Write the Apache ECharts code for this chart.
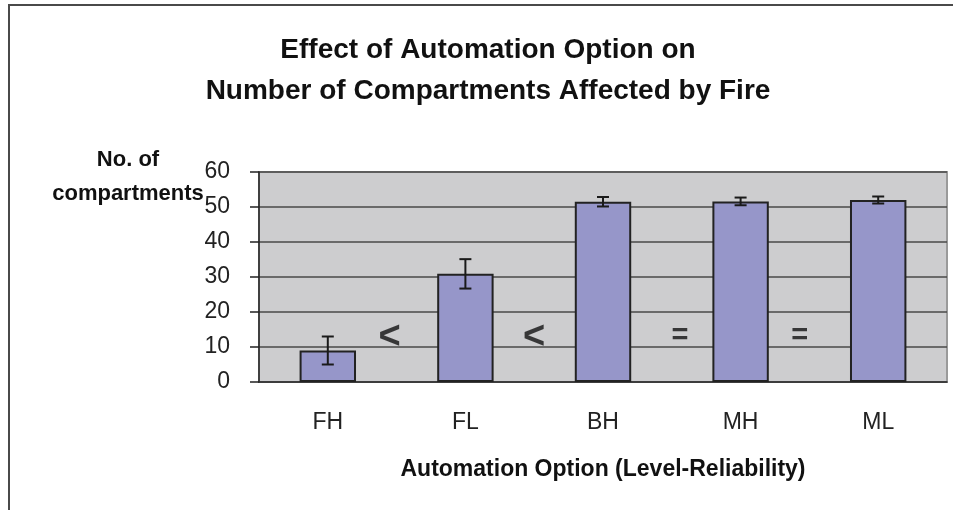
<!DOCTYPE html>
<html lang="en">
<head>
    <meta charset="UTF-8">
    <script src="https://cdn.jsdelivr.net/npm/echarts@6/dist/echarts.min.js"></script>
    <title>Effect of Automation Option</title>
    <style>
        html, body { margin: 0; padding: 0; background: #fff; }
        #main { width: 953px; height: 510px; }
    </style>
</head>
<body>
<div id="main"></div>
<script>
    // data
    var categories = ['FH', 'FL', 'BH', 'MH', 'ML'];
    var means = [9.0, 30.9, 51.5, 51.6, 52.0];
    var errors = [4.0, 4.2, 1.35, 1.1, 1.0];

    // comparison marks placed between the bars (x in category units, y in value units)
    var compSymbols = ['<', '<', '=', '='];
    var compX = [0.95, 2.0, 3.06, 3.93];
    var compY = [12.6, 12.6, 13.1, 13.1];

    var font = "'Liberation Sans', Arial, sans-serif";

    var errData = [];
    for (var i = 0; i < means.length; i++) {
        errData.push([i, means[i], errors[i]]);
    }
    var compData = [];
    for (var j = 0; j < compSymbols.length; j++) {
        compData.push({
            value: [compX[j], compY[j]],
            label: {
                formatter: compSymbols[j],
                fontSize: compSymbols[j] === '<' ? 38 : 29
            }
        });
    }

    var myChart = echarts.init(document.getElementById('main'));
    var option = {
        backgroundColor: '#fff',
        animation: false,
        textStyle: { fontFamily: font },
        graphic: [{
            type: 'rect',
            shape: { x: 9, y: 5, width: 1000, height: 600 },
            style: { fill: 'none', stroke: '#4a4a4a', lineWidth: 2 },
            silent: true
        }],
        title: [{
            text: 'Effect of Automation Option on\nNumber of Compartments Affected by Fire',
            left: 483,
            top: 25,
            textAlign: 'center',
            textStyle: { fontFamily: font, fontSize: 28, fontWeight: 'bold', color: '#111', lineHeight: 41 }
        }, {
            text: 'No. of\ncompartments',
            left: 123,
            top: 138,
            textAlign: 'center',
            textStyle: { fontFamily: font, fontSize: 22, fontWeight: 'bold', color: '#111', lineHeight: 34 }
        }],
        grid: {
            left: 259,
            top: 172,
            right: 6,
            bottom: 128,
            show: true,
            backgroundColor: '#cdcdcf',
            borderColor: '#9a9a9a',
            borderWidth: 2
        },
        xAxis: [{
            type: 'category',
            data: categories,
            name: 'Automation Option (Level-Reliability)',
            nameLocation: 'middle',
            nameGap: 76,
            nameTextStyle: { fontFamily: font, fontSize: 23, fontWeight: 'bold', color: '#111', lineHeight: 23 },
            axisLine: { lineStyle: { color: '#333', width: 1.5 } },
            axisTick: { length: 9, lineStyle: { color: '#333', width: 1.5 } },
            axisLabel: { fontFamily: font, fontSize: 23, color: '#222', margin: 29, lineHeight: 23 }
        }, {
            type: 'value',
            min: 0,
            max: 5,
            show: false
        }],
        yAxis: {
            type: 'value',
            min: 0,
            max: 60,
            interval: 10,
            axisLine: { show: true, lineStyle: { color: '#222', width: 1.5 } },
            axisTick: { show: true, length: 9, lineStyle: { color: '#222', width: 1.5 } },
            axisLabel: { fontFamily: font, fontSize: 23, color: '#222', margin: 29 },
            splitLine: { lineStyle: { color: '#484848', width: 1.5 } }
        },
        series: [{
            type: 'bar',
            data: means,
            barWidth: '41%',
            itemStyle: { color: '#9696c9', borderColor: '#222', borderWidth: 2 },
            z: 2
        }, {
            type: 'custom',
            data: errData,
            z: 5,
            renderItem: function (params, api) {
                var x = api.value(0);
                var m = api.value(1);
                var e = api.value(2);
                var top = api.coord([x, m + e]);
                var bot = api.coord([x, m - e]);
                var w = 6;
                var st = { stroke: '#1a1a1a', lineWidth: 2 };
                return {
                    type: 'group',
                    children: [
                        { type: 'line', shape: { x1: top[0], y1: top[1], x2: bot[0], y2: bot[1] }, style: st },
                        { type: 'line', shape: { x1: top[0] - w, y1: top[1], x2: top[0] + w, y2: top[1] }, style: st },
                        { type: 'line', shape: { x1: bot[0] - w, y1: bot[1], x2: bot[0] + w, y2: bot[1] }, style: st }
                    ]
                };
            }
        }, {
            type: 'scatter',
            xAxisIndex: 1,
            data: compData,
            symbolSize: 0,
            z: 6,
            label: {
                show: true,
                position: 'inside',
                fontFamily: font,
                fontWeight: 'bold',
                color: '#111'
            }
        }]
    };
    myChart.setOption(option);
</script>
</body>
</html>
